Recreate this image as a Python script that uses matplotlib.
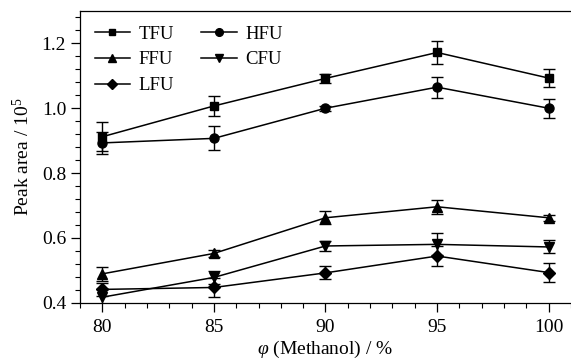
import matplotlib
matplotlib.use("Agg")
import matplotlib.pyplot as plt
from matplotlib.ticker import MultipleLocator
from matplotlib.lines import Line2D

plt.rcParams['font.family'] = ['Liberation Serif', 'DejaVu Serif']
plt.rcParams['mathtext.fontset'] = 'custom'
plt.rcParams['mathtext.rm'] = 'Liberation Serif'
plt.rcParams['mathtext.it'] = 'Liberation Serif:italic'

methanol = [80, 85, 90, 95, 100]

tfu = [0.912, 1.007, 1.092, 1.172, 1.093]
tfu_err = [0.045, 0.030, 0.013, 0.036, 0.027]
hfu = [0.893, 0.907, 1.000, 1.065, 1.000]
hfu_err = [0.035, 0.037, 0.008, 0.032, 0.029]
ffu = [0.489, 0.552, 0.662, 0.696, 0.662]
ffu_err = [0.022, 0.012, 0.020, 0.021, 0.010]
cfu = [0.417, 0.478, 0.575, 0.580, 0.572]
cfu_err = [0.025, 0.019, 0.015, 0.034, 0.020]
lfu = [0.441, 0.447, 0.492, 0.544, 0.493]
lfu_err = [0.020, 0.028, 0.020, 0.032, 0.030]

series = [
    ("TFU", tfu, tfu_err, "s"),
    ("FFU", ffu, ffu_err, "^"),
    ("LFU", lfu, lfu_err, "D"),
    ("HFU", hfu, hfu_err, "o"),
    ("CFU", cfu, cfu_err, "v"),
]

fig = plt.figure(figsize=(5.71, 3.64), dpi=100)
ax = fig.add_axes([0.1401, 0.1684, 0.8599, 0.8014])

msize = {"s": 5.8, "^": 7.0, "D": 6.0, "o": 6.5, "v": 7.0}
handles = []
for name, vals, errs, mk in series:
    ax.errorbar(methanol, vals, yerr=errs, color='black', marker=mk,
                ms=msize[mk], lw=1.1, elinewidth=1.0, capsize=4.5,
                capthick=1.0)
    handles.append(Line2D([], [], color='black', marker=mk, ms=msize[mk] * 0.85,
                          lw=1.1, label=name))

ax.set_xlim(79, 101)
ax.set_ylim(0.4, 1.3)
ax.xaxis.set_major_locator(MultipleLocator(5))
ax.xaxis.set_minor_locator(MultipleLocator(1))
ax.yaxis.set_minor_locator(MultipleLocator(0.04))
ax.set_yticks([0.4, 0.6, 0.8, 1.0, 1.2])
ax.set_yticklabels(['0.4', '0.6', '0.8', '1.0', '1.2'])
ax.tick_params(which='major', direction='out', length=6.5, width=0.9, labelsize=14)
ax.tick_params(which='minor', direction='out', length=3.5, width=0.8)
ax.tick_params(axis='x', which='major', pad=5)
ax.spines['right'].set_visible(False)
for s in ['left', 'bottom', 'top']:
    ax.spines[s].set_linewidth(0.9)

ax.set_ylabel('Peak area / 10$^5$', fontsize=14, labelpad=6)
ax.set_xlabel(r'$\it{\varphi}$ (Methanol) / %', fontsize=14, labelpad=2)

ax.legend(handles=handles, loc='upper left', ncol=2, frameon=False, fontsize=13.5,
          handlelength=1.9, columnspacing=1.45, handletextpad=0.45,
          labelspacing=0.46, borderaxespad=0.38)

fig.savefig('out.png', dpi=100)
